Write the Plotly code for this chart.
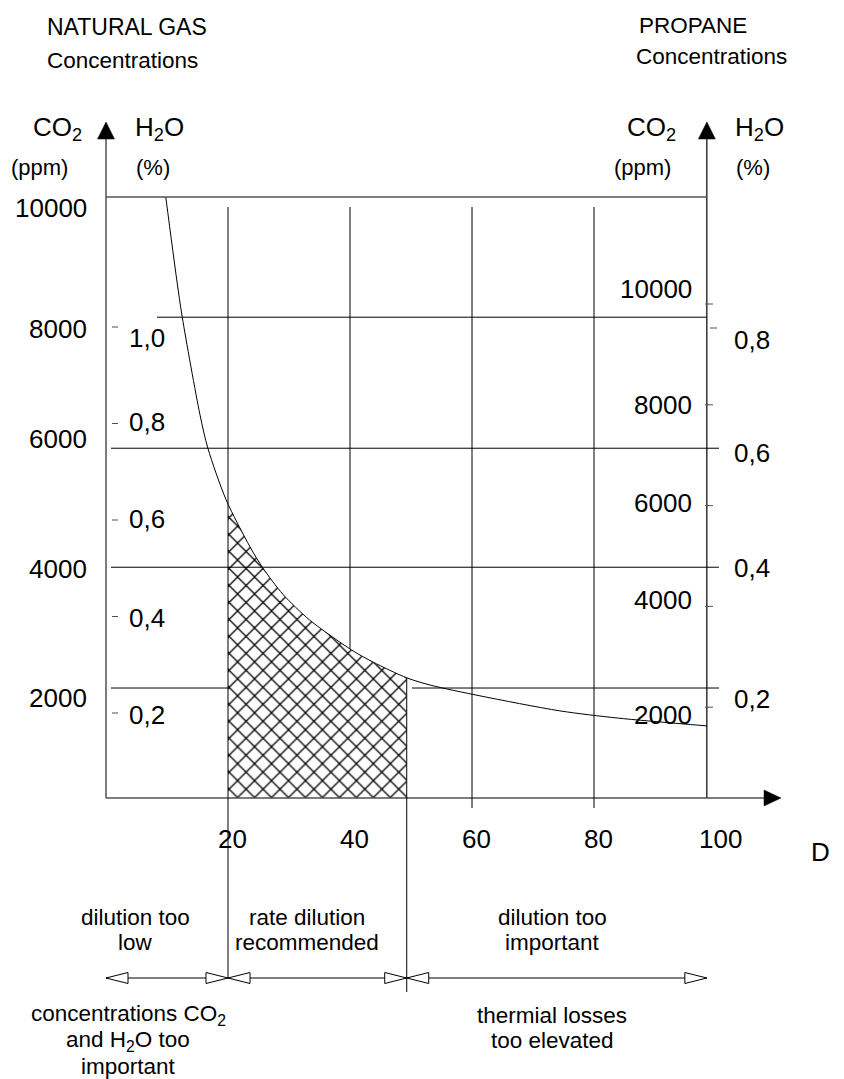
import numpy as np
import plotly.graph_objects as go

# ---------------- data ----------------
# limit curve: dilution rate D (%) vs natural-gas CO2 concentration (ppm)
curve_D = [9.8, 11.6, 12.5, 15.4, 16.7, 19.7, 23.6, 25.7, 29.0, 33.4, 40.3, 43.8,
           49.3, 53.1, 61.3, 74.4, 83.9, 98.5]
curve_ppm = [10000, 8620, 8000, 6380, 5820, 4960, 4180, 3830, 3390, 2960, 2460, 2260,
             2000, 1880, 1700, 1450, 1330, 1200]

d_ticks = [20, 40, 60, 80, 100]
recommended = [20, 49.3]            # hatched range of D
zone_bounds = [0, 20, 49.3, 98.5]   # zones marked by the arrows under the axis
propane_axis_D = 98.5

# horizontal guide lines as drawn (natural-gas CO2 scale, ppm)
hgrid_ppm = [10000, 8000, 5820, 3840, 1830]

gas_co2_ticks = [10000, 8000, 6000, 4000, 2000]
gas_h2o_ticks = [1.0, 0.8, 0.6, 0.4, 0.2]
gas_h2o_labels = ["1,0", "0,8", "0,6", "0,4", "0,2"]
prop_co2_ticks = [10000, 8000, 6000, 4000, 2000]
prop_h2o_ticks = [0.8, 0.6, 0.4, 0.2]
prop_h2o_labels = ["0,8", "0,6", "0,4", "0,2"]

zone_top_labels = [["dilution too", "low"],
                   ["rate dilution", "recommended"],
                   ["dilution too", "important"]]
zone_bottom_labels = [["concentrations CO<sub>2</sub>", "and H<sub>2</sub>O too", "important"],
                      ["thermial losses", "too elevated"]]

# ---------------- drawing geometry ----------------
W, H = 844, 1079
X0, XS = 106.0, 6.1       # pixel of D=0, pixels per unit of D
Y0, YS = 798.0, 0.0601    # pixel of 0 ppm, pixels per ppm (natural gas CO2)


def d_of(px):
    return (px - X0) / XS


def ppm_of(py):
    return (Y0 - py) / YS


def xp(px):
    return px / W


def yp(py):
    return 1 - py / H


def curve_at(d):
    return float(np.interp(d, curve_D, curve_ppm))


FONT = "Liberation Sans, Arial, sans-serif"
INK = "black"
GREY = "#505050"
SMOOTH = 0.8

fig = go.Figure()

# hatched recommended area (filled down to the D axis, following the curve)
lo, hi = recommended
inner = [(d, p) for d, p in zip(curve_D, curve_ppm) if lo < d < hi]
hx = [lo] + [d for d, _ in inner] + [hi]
hy = [curve_at(lo)] + [p for _, p in inner] + [curve_at(hi)]
fig.add_trace(go.Scatter(
    x=hx, y=hy, mode="lines", fill="tozeroy",
    line=dict(width=0, color=INK, shape="spline", smoothing=SMOOTH),
    fillcolor="white",
    fillpattern=dict(shape="x", size=12, solidity=0.2, fgcolor=INK,
                     bgcolor="white", fgopacity=1),
    hoverinfo="skip", showlegend=False))

# limit curve
fig.add_trace(go.Scatter(x=curve_D, y=curve_ppm, mode="lines",
                         line=dict(color=INK, width=1, shape="spline", smoothing=SMOOTH),
                         hoverinfo="skip", showlegend=False))

# invisible anchors for the secondary scales
for ax in ["y2", "y3", "y4"]:
    fig.add_trace(go.Scatter(x=[0], y=[0.1], yaxis=ax, mode="markers",
                             marker=dict(opacity=0, size=1),
                             hoverinfo="skip", showlegend=False))

shapes = []


def seg(x0, y0, x1, y1, color=INK, width=1, yref="y"):
    shapes.append(dict(type="line", x0=x0, y0=y0, x1=x1, y1=y1, xref="x",
                       yref=yref, line=dict(color=color, width=width)))


def poly(pts, fill, width=1):
    path = "M " + " L ".join(f"{x},{y}" for x, y in pts) + " Z"
    shapes.append(dict(type="path", path=path, xref="x", yref="y",
                       fillcolor=fill, line=dict(color=INK, width=width)))


# axes
arrow_base, arrow_tip = 139, 122
seg(0, 0, 0, ppm_of(arrow_base), GREY, 1.5)
poly([(0, ppm_of(arrow_tip)), (d_of(X0 - 8.5), ppm_of(arrow_base)),
      (d_of(X0 + 8.5), ppm_of(arrow_base))], INK, 0.5)
pxr = X0 + propane_axis_D * XS
seg(propane_axis_D, 0, propane_axis_D, ppm_of(arrow_base), INK, 1.2)
poly([(propane_axis_D, ppm_of(arrow_tip)), (d_of(pxr - 8.5), ppm_of(arrow_base)),
      (d_of(pxr + 8.5), ppm_of(arrow_base))], INK, 0.5)
seg(0, 0, d_of(766), 0, GREY, 1.5)
poly([(d_of(781), 0), (d_of(764), 8 / YS), (d_of(764), -8 / YS)], INK, 0.5)

# horizontal guide lines (spans in px as drawn)
hspans = {
    10000: [(X0, pxr)],
    8000: [(157, pxr)],
    5820: [(111, 719)],
    3840: [(111, 719)],
    1830: [(111, 230), (412, 719)],
}
for lvl in hgrid_ppm:
    for a, b in hspans[lvl]:
        seg(d_of(a), lvl, d_of(b), lvl, GREY if lvl == 10000 else INK,
            1.3 if lvl == 10000 else 1)

# vertical guide lines
top_v = ppm_of(207)
seg(d_ticks[0], top_v, d_ticks[0], ppm_of(978))
seg(d_ticks[1], top_v, d_ticks[1], curve_at(d_ticks[1]))
for d in d_ticks[2:4]:
    seg(d, top_v, d, ppm_of(808))
seg(recommended[1], curve_at(recommended[1]), recommended[1], ppm_of(992))

# tick dashes
for v in gas_h2o_ticks:
    seg(d_of(112), v, d_of(118), v, GREY, 1, "y2")
for v in prop_co2_ticks:
    seg(d_of(705), v, d_of(713), v, GREY, 1, "y3")
seg(d_of(710), prop_h2o_ticks[0], d_of(717), prop_h2o_ticks[0], GREY, 1, "y4")

# zone arrows below the axis
row = ppm_of(978)
seg(zone_bounds[0], row, zone_bounds[-1], row)
ah_len, ah_half = 22 / XS, 5.5 / YS
for i, b in enumerate(zone_bounds):
    if i > 0:   # right-pointing head ending at b
        poly([(b, row), (b - ah_len, row + ah_half), (b - ah_len, row - ah_half)], "white", 1)
    if i < len(zone_bounds) - 1:   # left-pointing head starting at b
        poly([(b, row), (b + ah_len, row + ah_half), (b + ah_len, row - ah_half)], "white", 1)

# ---------------- text ----------------
anns = []


def ann(text, x, y, size, xanchor="left", yanchor="middle", xref="paper",
        yref="paper", xshift=0, yshift=0):
    anns.append(dict(text=text, x=x, y=y, xref=xref, yref=yref, xanchor=xanchor,
                     yanchor=yanchor, showarrow=False, xshift=xshift, yshift=yshift,
                     font=dict(family=FONT, size=size, color=INK)))


ann("NATURAL GAS", xp(45), yp(27), 23)
ann("Concentrations", xp(45), yp(60), 22.5)
ann("PROPANE", xp(637), yp(25), 22.5)
ann("Concentrations", xp(634), yp(57), 22.5)

ann("CO<sub>2</sub>", xp(31), yp(128), 26)
ann("H<sub>2</sub>O", xp(133), yp(128), 26)
ann("(ppm)", xp(9), yp(167), 22)
ann("(%)", xp(134), yp(167), 22)
ann("CO<sub>2</sub>", xp(625), yp(128), 26)
ann("H<sub>2</sub>O", xp(733), yp(128), 26)
ann("(ppm)", xp(612), yp(167), 22)
ann("(%)", xp(734), yp(167), 22)

gas_co2_nudge = [-11, -12, -2, -11, -20]
for v, n in zip(gas_co2_ticks, gas_co2_nudge):
    ann(f"{v}", xp(89), v, 26, "right", yref="y", yshift=n)
gas_h2o_nudge = [-11, 2, 1, -1, -2]
for v, t, n in zip(gas_h2o_ticks, gas_h2o_labels, gas_h2o_nudge):
    ann(t, xp(127), v, 26, "left", yref="y2", yshift=n)
prop_co2_nudge = [15, 0, 3, 6, -8]
for v, n in zip(prop_co2_ticks, prop_co2_nudge):
    ann(f"{v}", xp(694), v, 26, "right", yref="y3", yshift=n)
prop_h2o_nudge = [-12, -5, 0, -11]
for v, t, n in zip(prop_h2o_ticks, prop_h2o_labels, prop_h2o_nudge):
    ann(t, xp(732), v, 26, "left", yref="y4", yshift=n)

for d in d_ticks:
    ann(f"{d}", d, yp(839), 26, "center", xref="x", xshift=4)
ann("D", xp(809), yp(852), 26)

LINE = 25.5
for lines, cx in zip(zone_top_labels, [135, 307, 552]):
    for k, t in enumerate(lines):
        ann(t, xp(cx), yp(917 + k * LINE), 22.5, "center")
for lines, cx, top in zip(zone_bottom_labels, [128, 552], [1015, 1015]):
    for k, t in enumerate(lines):
        ann(t, xp(cx), yp(top + k * LINE), 22.5, "center")

fig.update_layout(
    width=W, height=H, margin=dict(l=0, r=0, t=0, b=0),
    paper_bgcolor="white", plot_bgcolor="white", showlegend=False,
    xaxis=dict(range=[d_of(0), d_of(W)], visible=False, fixedrange=True),
    yaxis=dict(range=[ppm_of(H), ppm_of(0)], visible=False, fixedrange=True),
    yaxis2=dict(range=[(809.5 - H) / 482.5, 809.5 / 482.5], overlaying="y",
                visible=False, fixedrange=True),
    yaxis3=dict(range=[(808 - H) / 0.0504, 808 / 0.0504], overlaying="y",
                visible=False, fixedrange=True),
    yaxis4=dict(range=[(808 - H) / 600, 808 / 600], overlaying="y",
                visible=False, fixedrange=True),
    shapes=shapes, annotations=anns,
)

fig.write_html("out.html", config={"displayModeBar": False},
               post_script="document.body.style.margin='0px';"
                           "document.body.style.overflow='hidden';")
